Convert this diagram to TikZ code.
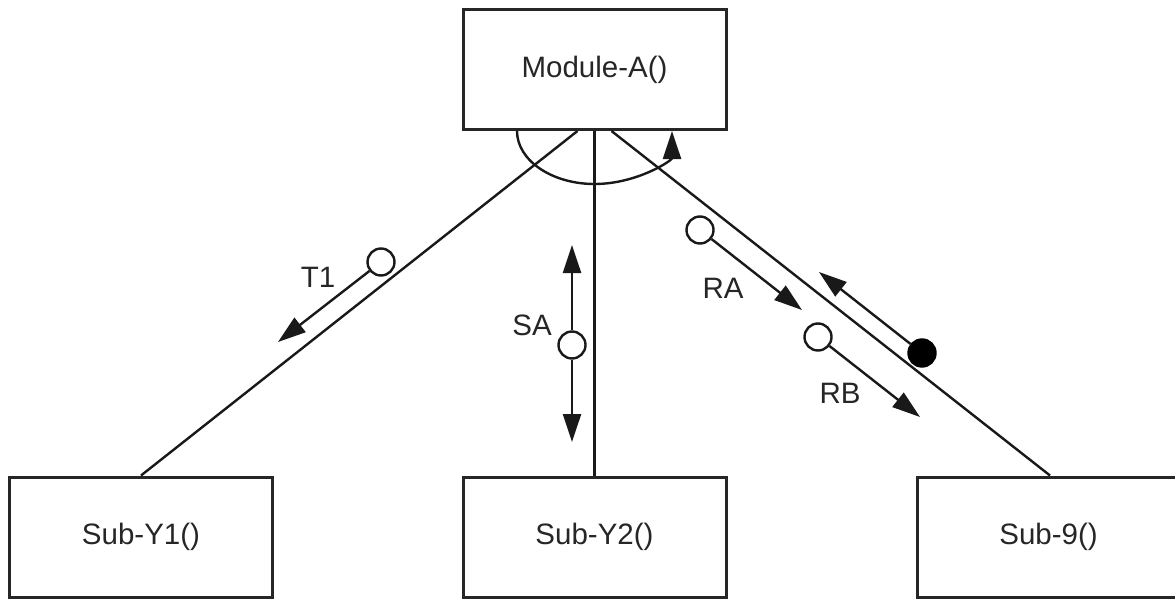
\documentclass[tikz,border=0pt]{standalone}
\usepackage{fontspec}
\setmainfont{Liberation Sans}
\usetikzlibrary{arrows.meta,calc}
\begin{document}
\begin{tikzpicture}[x=1pt,y=1pt,
  box/.style={draw=black!85,line width=3pt,minimum width=263pt,minimum height=120pt,inner sep=0pt,font=\fontsize{29.5}{34}\selectfont,text=black!85},
  conn/.style={line width=2.4pt,draw=black!90},
  arr/.style={line width=2.4pt,draw=black!90,-{Triangle[length=28pt,width=18pt]}},
  ocirc/.style={circle,draw=black!90,fill=white,line width=2.4pt,minimum size=27pt,inner sep=0pt},
  fcirc/.style={circle,draw=black,fill=black,line width=2.4pt,minimum size=27pt,inner sep=0pt},
  lbl/.style={font=\fontsize{29.5}{34}\selectfont,text=black!85,inner sep=0pt}]
\useasboundingbox (0,0) rectangle (1175,-599);
% boxes
\node[box] (A) at (594.5,-69.5) {Module-A()};
\node[box] (Y1) at (141,-537) {Sub-Y1()};
\node[box] (Y2) at (594.5,-537) {Sub-Y2()};
\node[box] (S9) at (1048.5,-537) {Sub-9()};
% main connectors
\draw[conn] ($(A.south)+(-17,0)$) -- (Y1.north);
\draw[conn] (A.south) -- (Y2.north);
\draw[conn] ($(A.south)+(17,0)$) -- ($(S9.north)+(1.5,0)$);
% arc
\draw[arr] ($(A.south)+(-77.5,0)$) arc[start angle=180,end angle=360,x radius=77.5,y radius=53];
% T1
\node[ocirc] (c1) at (381,-262) {};
\coordinate (t1) at (278,-342);
\draw[arr] (c1) -- (t1);
\node[lbl] (lt1) at (318,-277) {T1};
% SA
\node[ocirc] (c2) at (572,-345) {};
\coordinate (sau) at (572,-245);
\coordinate (sad) at (572,-442);
\draw[arr] (c2) -- (sau);
\draw[arr] (c2) -- (sad);
\node[lbl] (lsa) at (532,-325) {SA};
% RA
\node[ocirc] (c3) at (700,-230) {};
\coordinate (ra) at (802,-310);
\draw[arr] (c3) -- (ra);
\node[lbl] (lra) at (723,-288) {RA};
% RB
\node[ocirc] (c4) at (818,-337) {};
\coordinate (rb) at (920,-417);
\draw[arr] (c4) -- (rb);
\node[lbl] (lrb) at (840,-393) {RB};
% filled
\node[fcirc] (c5) at (922,-353) {};
\coordinate (ft) at (819,-272);
\draw[arr] (c5) -- (ft);
\end{tikzpicture}
\end{document}
